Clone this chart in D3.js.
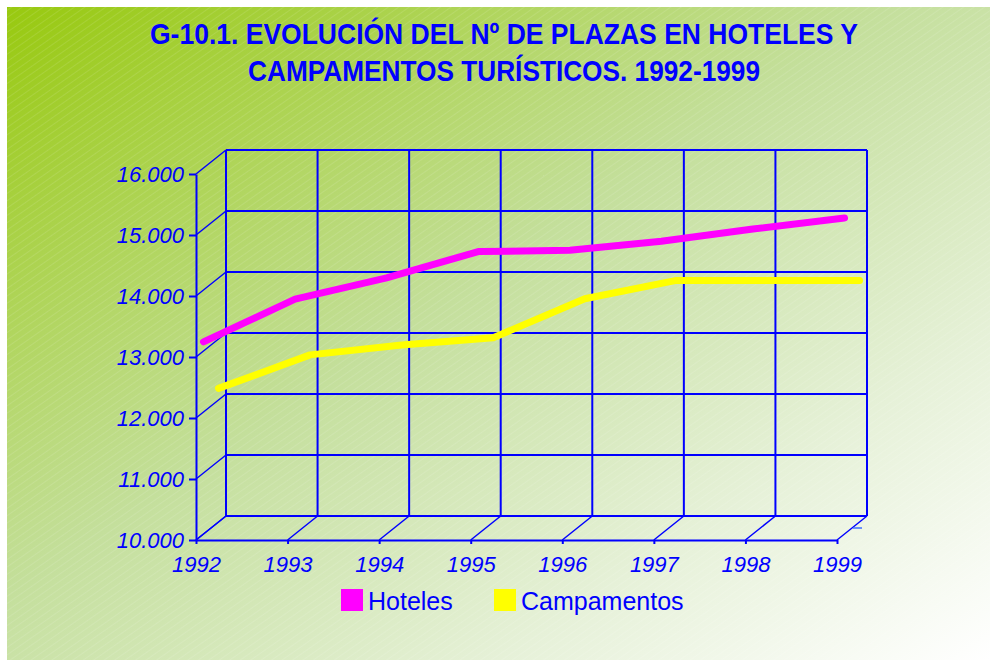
<!DOCTYPE html>
<html>
<head>
<meta charset="utf-8">
<script src="https://cdn.jsdelivr.net/npm/d3@7"></script>
<style>
  body { margin: 0; background: #fff; }
  svg { display: block; }
</style>
</head>
<body>
<script>
// data
const years = ["1992", "1993", "1994", "1995", "1996", "1997", "1998", "1999"];
const hoteles = [13150, 13850, 14200, 14630, 14650, 14800, 15000, 15180];
const campamentos = [12190, 12740, 12900, 13020, 13660, 13960, 13960, 13960];
const yTicks = [10000, 11000, 12000, 13000, 14000, 15000, 16000];
const titleLines = ["G-10.1. EVOLUCIÓN DEL Nº DE PLAZAS EN HOTELES Y", "CAMPAMENTOS TURÍSTICOS. 1992-1999"];

const width = 990, height = 660;
const blue = "#0000ff";
const depth = [30, -24];   // offset of back wall

const svg = d3.select("body").append("svg")
  .attr("width", width)
  .attr("height", height)
  .style("font-family", "'Liberation Sans', Arial, sans-serif");

const defs = svg.append("defs");
const grad = defs.append("linearGradient").attr("id", "bg")
  .attr("x1", 0).attr("y1", 0).attr("x2", 1).attr("y2", 1);
grad.append("stop").attr("offset", 0).attr("stop-color", "#98c90f");
grad.append("stop").attr("offset", 0.45).attr("stop-color", "#c4df9c");
grad.append("stop").attr("offset", 0.75).attr("stop-color", "#e6f1d8");
grad.append("stop").attr("offset", 1).attr("stop-color", "#ffffff");

const pat = defs.append("pattern").attr("id", "stripes")
  .attr("width", 6).attr("height", 6)
  .attr("patternUnits", "userSpaceOnUse")
  .attr("patternTransform", "rotate(-35)");
pat.append("line").attr("x1", 0).attr("y1", 0).attr("x2", 6).attr("y2", 0)
  .attr("stroke", "#fff").attr("stroke-width", 1).attr("stroke-opacity", 0.22);

svg.append("rect").attr("x", 7).attr("y", 7).attr("width", width - 7).attr("height", height - 7)
  .attr("fill", "url(#bg)");
svg.append("rect").attr("x", 7).attr("y", 7).attr("width", width - 7).attr("height", height - 7)
  .attr("fill", "url(#stripes)");

// title
svg.selectAll(".title").data(titleLines).enter().append("text")
  .attr("class", "title")
  .attr("x", 504)
  .attr("y", (d, i) => 44 + i * 37)
  .attr("text-anchor", "middle")
  .attr("textLength", (d, i) => i == 0 ? 708 : 512)
  .attr("lengthAdjust", "spacingAndGlyphs")
  .attr("fill", blue)
  .style("font-weight", "bold")
  .style("font-size", "30px")
  .text(d => d);

const x = d3.scalePoint().domain(years).range([196, 837]);
const y = d3.scaleLinear().domain([10000, 16000]).range([540, 174]);

const fmt = d3.formatLocale({ decimal: ",", thousands: ".", grouping: [3], currency: ["", ""] }).format(",");

const grid = svg.append("g").attr("stroke", blue).attr("stroke-width", 2).attr("fill", "none");

// back wall horizontals
grid.selectAll(".bh").data(yTicks).enter().append("line")
  .attr("x1", x(years[0]) + depth[0]).attr("x2", x(years[years.length - 1]) + depth[0])
  .attr("y1", d => y(d) + depth[1]).attr("y2", d => y(d) + depth[1]);
// back wall verticals
grid.selectAll(".bv").data(years).enter().append("line")
  .attr("x1", d => x(d) + depth[0]).attr("x2", d => x(d) + depth[0])
  .attr("y1", y(10000) + depth[1]).attr("y2", y(16000) + depth[1]);
// side wall diagonals
grid.selectAll(".sd").data(yTicks).enter().append("line")
  .attr("x1", x(years[0])).attr("y1", d => y(d))
  .attr("x2", x(years[0]) + depth[0]).attr("y2", d => y(d) + depth[1])
  .attr("stroke-width", 1.5);
// floor diagonals
grid.selectAll(".fd").data(years).enter().append("line")
  .attr("x1", d => x(d)).attr("y1", y(10000))
  .attr("x2", d => x(d) + depth[0]).attr("y2", y(10000) + depth[1])
  .attr("stroke-width", 1.5);
// small depth-axis tick at right
grid.append("line")
  .attr("x1", x("1999") + 16).attr("x2", x("1999") + 25)
  .attr("y1", y(10000) - 12).attr("y2", y(10000) - 12)
  .attr("stroke", "#3f6fff").attr("stroke-width", 1.5);

// axes
const yAxis = svg.append("g")
  .attr("transform", `translate(${x(years[0])},0)`)
  .call(d3.axisLeft(y).tickValues(yTicks).tickFormat(fmt).tickSize(7).tickSizeOuter(0).tickPadding(5));
const xAxis = svg.append("g")
  .attr("transform", `translate(0,${y(10000)})`)
  .call(d3.axisBottom(x).tickSize(4).tickSizeOuter(0).tickPadding(12));

[yAxis, xAxis].forEach(a => {
  a.select(".domain").attr("stroke", blue).attr("stroke-width", 2);
  a.selectAll(".tick line").attr("stroke", blue).attr("stroke-width", 2);
  a.selectAll("text")
    .attr("fill", blue)
    .style("font-style", "italic")
    .style("font-size", "22px")
    .style("font-family", "'Liberation Sans', Arial, sans-serif");
});
yAxis.selectAll("text").attr("dy", "0.36em");

// series, back row first
const series = [
  { name: "Campamentos", values: campamentos, color: "#ffff00", row: 0.75 },
  { name: "Hoteles", values: hoteles, color: "#ff00ff", row: 0.25 }
];

series.forEach(s => {
  const line = d3.line()
    .x((d, i) => x(years[i]) + depth[0] * s.row)
    .y(d => y(d) + depth[1] * s.row);
  svg.append("path")
    .datum(s.values)
    .attr("d", line)
    .attr("fill", "none")
    .attr("stroke", s.color)
    .attr("stroke-width", 7)
    .attr("stroke-linejoin", "round")
    .attr("stroke-linecap", "round");
});

// legend
const legendItems = [
  { name: "Hoteles", color: "#ff00ff", x: 341 },
  { name: "Campamentos", color: "#ffff00", x: 494 }
];
const lg = svg.selectAll(".lg").data(legendItems).enter().append("g")
  .attr("transform", d => `translate(${d.x},589)`);
lg.append("rect").attr("width", 22).attr("height", 22).attr("fill", d => d.color);
lg.append("text")
  .attr("x", 27).attr("y", 21)
  .attr("fill", blue)
  .style("font-size", "25px")
  .text(d => d.name);
</script>
</body>
</html>
